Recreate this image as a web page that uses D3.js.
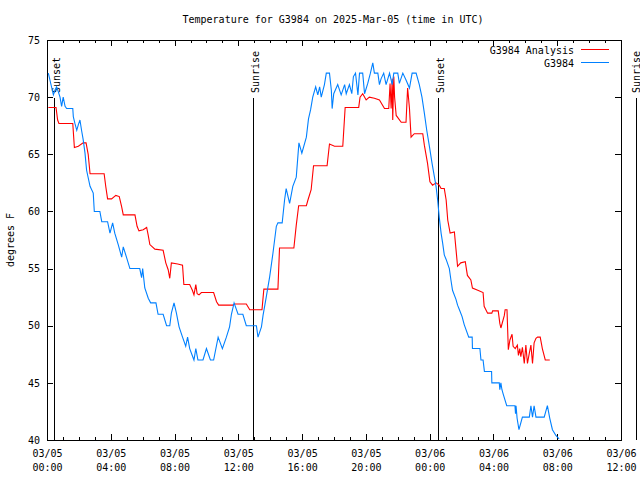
<!DOCTYPE html>
<html><head><meta charset="utf-8">
<script src="https://cdn.jsdelivr.net/npm/d3@7/dist/d3.min.js"></script>
<style>
body{margin:0;background:#fff}
svg{overflow:visible}
text{font-family:"DejaVu Sans Mono","Liberation Mono",monospace;font-size:10px;fill:#000}
</style>
</head><body><svg id="c" width="640" height="480"></svg>
<script>
const chartTitle = "Temperature for G3984 on 2025-Mar-05 (time in UTC)";
const yAxisLabel = "degrees F";
const seriesNames = ["G3984 Analysis", "G3984"];
const seriesColors = ["#ff0000", "#0080ff"];
const xTickMinutes = [0, 240, 480, 720, 960, 1200, 1440, 1680, 1920, 2160];
const xTickDates = ["03/05","03/05","03/05","03/05","03/05","03/05","03/06","03/06","03/06","03/06"];
const xTickTimes = ["00:00","04:00","08:00","12:00","16:00","20:00","00:00","04:00","08:00","12:00"];
const yTicks = [40, 45, 50, 55, 60, 65, 70, 75];
const sunLabels = ["Sunset", "Sunrise", "Sunset", "Sunrise"];
const sunMinutes = [26, 774, 1470, 2216];

// minutes since 2025-03-05 00:00 UTC, temperature in degrees F
const analysisMinutes = [5,34,40,45,97,103,118,136,147,155,162,215,221,228,243,259,272,281,287,331,339,346,362,375,381,387,406,437,447,456,462,468,492,510,515,537,547,553,560,565,572,581,627,638,646,700,706,750,763,809,816,869,875,929,938,947,976,982,994,1003,1054,1063,1082,1113,1122,1173,1178,1188,1201,1213,1232,1251,1270,1286,1291,1295,1299,1301,1305,1308,1314,1333,1351,1357,1364,1370,1382,1414,1420,1432,1441,1451,1464,1476,1483,1495,1502,1508,1517,1533,1539,1545,1557,1574,1582,1595,1601,1621,1641,1645,1658,1674,1677,1698,1704,1708,1721,1724,1731,1736,1742,1750,1754,1762,1770,1774,1779,1783,1789,1796,1802,1808,1815,1821,1827,1833,1840,1846,1856,1864,1875,1892];
const analysisTemps = [69.1,69.1,68.0,67.7,67.7,65.6,65.7,66.0,66.0,65.0,63.3,63.3,62.2,61.1,61.1,61.4,61.3,60.4,59.7,59.7,58.7,58.3,58.4,58.6,57.9,57.1,56.7,56.6,55.5,54.9,54.15,55.5,55.4,55.3,53.6,53.6,53.1,52.7,53.6,52.8,52.7,52.9,52.9,52.1,51.8,51.8,51.9,51.9,51.4,51.4,53.2,53.2,56.8,56.8,58.8,60.5,60.5,61.0,61.9,64.0,64.0,65.9,65.7,65.7,69.1,69.1,70.0,70.3,69.75,70.0,69.9,69.75,69.0,69.0,71.2,69.0,71.6,68.0,71.8,70.0,68.4,67.8,67.8,70.8,69.0,66.5,66.8,66.8,65.8,64.2,62.6,62.3,62.5,62.3,62.0,62.0,61.0,59.25,58.1,58.2,56.7,55.2,55.5,55.6,54.4,54.0,53.3,53.1,52.9,51.7,51.1,51.1,51.3,51.3,50.2,49.8,50.9,51.4,51.4,47.9,48.75,49.25,48.2,48.0,48.3,47.4,48.0,47.3,48.1,46.7,48.3,46.7,47.6,48.3,46.7,48.5,48.9,49.0,49.0,48.0,47.0,47.0];

const stationMinutes = [5,11,18,24,30,36,42,49,55,61,68,74,97,99,105,112,118,124,130,136,143,149,162,174,178,199,206,228,237,247,255,268,281,287,299,312,349,356,360,368,381,390,410,418,437,450,462,468,478,487,497,510,522,529,537,553,560,568,587,600,615,627,644,660,675,687,694,704,719,737,750,788,794,807,813,825,838,850,863,869,885,894,900,913,925,938,948,959,976,984,992,1000,1011,1019,1026,1032,1044,1051,1063,1070,1073,1079,1094,1107,1120,1126,1138,1147,1153,1161,1170,1176,1188,1195,1207,1217,1226,1232,1245,1251,1257,1267,1276,1289,1299,1305,1320,1326,1339,1351,1364,1374,1389,1401,1411,1420,1429,1439,1449,1458,1464,1470,1476,1483,1489,1495,1502,1514,1520,1526,1539,1545,1552,1562,1570,1587,1600,1601,1629,1633,1641,1646,1673,1674,1702,1704,1708,1712,1717,1730,1761,1763,1765,1769,1776,1789,1815,1821,1827,1833,1840,1871,1883,1892,1902,1915,1927];
const stationTemps = [72.1,71.5,70.8,70.2,70.6,70.9,70.5,70.0,69.2,70.0,69.2,69.0,69.0,68.3,67.7,67.1,67.6,68.0,67.1,66.3,65.1,63.6,62.2,61.6,60.0,60.0,59.1,59.1,58.1,59.0,58.1,57.1,56.0,56.9,56.0,55.0,55.0,54.2,55.0,53.3,52.4,52.0,52.0,51.0,51.0,50.0,50.0,51.1,52.0,51.1,49.9,49.0,48.2,49.0,48.0,47.0,48.0,47.0,47.0,48.0,47.0,47.0,49.0,48.0,49.0,49.9,51.0,52.0,51.0,51.0,50.0,50.0,49.0,49.9,50.9,52.5,54.3,56.3,58.7,59.0,59.0,61.0,62.0,60.7,62.2,63.0,66.0,65.1,66.5,68.1,68.9,70.0,70.9,70.2,70.9,70.0,71.1,72.1,72.1,70.6,69.0,70.3,71.1,70.2,71.1,70.3,71.1,70.3,71.8,72.1,70.2,72.1,72.1,70.3,71.2,72.1,73.0,72.1,72.1,71.1,71.6,72.1,71.1,72.1,71.1,72.1,72.1,71.2,72.1,71.5,70.8,72.1,72.1,71.1,70.0,68.6,67.1,65.7,64.2,63.0,62.2,61.0,59.5,58.1,57.2,56.2,55.8,55.0,54.0,53.1,52.3,51.8,51.4,50.8,50.1,49.0,49.0,48.0,48.0,47.0,47.0,46.0,46.0,45.0,45.0,44.4,45.0,44.4,44.0,43.0,43.0,42.3,43.0,41.9,40.9,42.0,42.0,43.0,42.0,43.0,42.0,42.0,43.0,41.9,40.9,40.4,40.1];

const L = 47, R = 621, T = 40, B = 440;
const svg = d3.select("#c");
const x = d3.scaleLinear().domain([0, 2160]).range([L, R]);
const y = d3.scaleLinear().domain([40, 75]).range([B, T]);

// title
svg.append("text").attr("x", 333).attr("y", 23).attr("text-anchor", "middle").text(chartTitle);
svg.append("text").attr("transform", "translate(14,240) rotate(-90)").attr("text-anchor", "middle").text(yAxisLabel);

const hourly = d3.range(0, 2161, 60);
function clean(g){ g.select(".domain").remove(); g.selectAll(".tick line").attr("stroke","#000").attr("shape-rendering","crispEdges"); }

// minor ticks
svg.append("g").attr("transform", `translate(0,${B})`)
  .call(d3.axisBottom(x).tickValues(hourly).tickSize(-3).tickFormat("")).call(clean);
svg.append("g").attr("transform", `translate(0,${T})`)
  .call(d3.axisTop(x).tickValues(hourly).tickSize(-3).tickFormat("")).call(clean);
// major x ticks with labels
const xb = svg.append("g").attr("transform", `translate(0,${B})`)
  .call(d3.axisBottom(x).tickValues(xTickMinutes).tickSize(-6).tickFormat((d,i)=>"")).call(clean);
xb.selectAll(".tick text").each(function(d,i){
  const t = d3.select(this).attr("y", null).attr("dy", null).attr("fill","#000")
    .style("font-family",'"DejaVu Sans Mono",monospace').style("font-size","10px");
  t.append("tspan").attr("x",0).attr("y",17).text(xTickDates[i]);
  t.append("tspan").attr("x",0).attr("y",31).text(xTickTimes[i]);
});
svg.append("g").attr("transform", `translate(0,${T})`)
  .call(d3.axisTop(x).tickValues(xTickMinutes).tickSize(-6).tickFormat("")).call(clean);
// y ticks
const yl = svg.append("g").attr("transform", `translate(${L},0)`)
  .call(d3.axisLeft(y).tickValues(yTicks).tickSize(-6).tickPadding(7).tickFormat(d3.format("d"))).call(clean);
yl.selectAll(".tick text").attr("fill","#000").style("font-family",'"DejaVu Sans Mono",monospace').style("font-size","10px");
svg.append("g").attr("transform", `translate(${R},0)`)
  .call(d3.axisRight(y).tickValues(yTicks).tickSize(-6).tickFormat("")).call(clean);

// frame
svg.append("rect").attr("x", L).attr("y", T).attr("width", R-L).attr("height", B-T)
  .attr("fill","none").attr("stroke","#000").attr("shape-rendering","crispEdges");

// sunrise/sunset markers
sunMinutes.forEach((m,i)=>{
  const xx = Math.round(x(m)) + 0.5;
  svg.append("line").attr("x1", xx).attr("x2", xx).attr("y1", 98).attr("y2", B)
    .attr("stroke","#000").attr("shape-rendering","crispEdges");
  const tx = Math.min(xx + 5, 639.5);
  svg.append("text").attr("transform", `translate(${tx},93) rotate(-90)`).text(sunLabels[i]);
});

// series
const line = d3.line().x(d=>x(d[0])).y(d=>y(d[1]));
const analysis = analysisMinutes.map((m,i)=>[m, analysisTemps[i]]);
const station = stationMinutes.map((m,i)=>[m, stationTemps[i]]);
[analysis, station].forEach((data,i)=>{
  svg.append("path").datum(data).attr("d", line).attr("fill","none")
    .attr("stroke", seriesColors[i]).attr("stroke-width", 1.1).attr("stroke-linejoin","miter");
});

// legend
const legY = [49.5, 62.5];
seriesNames.forEach((n,i)=>{
  svg.append("text").attr("x", 574).attr("y", legY[i]+4).attr("text-anchor","end").text(n);
  svg.append("line").attr("x1", 581).attr("x2", 609).attr("y1", legY[i]).attr("y2", legY[i])
    .attr("stroke", seriesColors[i]).attr("shape-rendering","crispEdges");
});
</script></body></html>
